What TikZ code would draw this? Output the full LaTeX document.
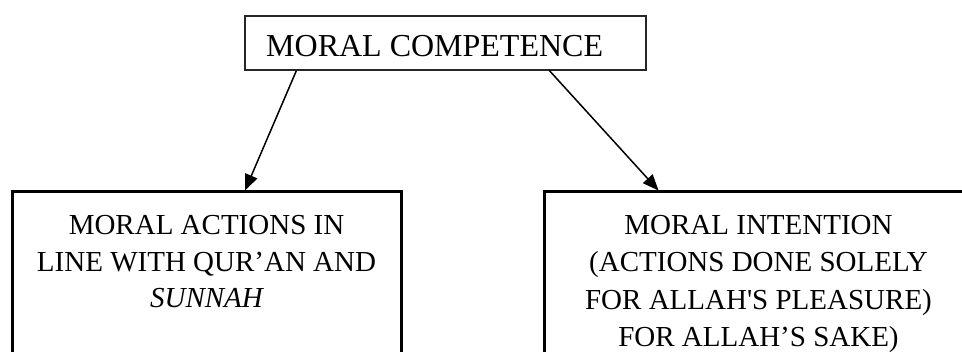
\documentclass[tikz,border=0pt]{standalone}
\usepackage{fontspec}
\setmainfont{Liberation Serif}
\usetikzlibrary{arrows.meta}
\begin{document}
\begin{tikzpicture}[x=1pt,y=1pt,
  topbox/.style={draw=black!85, line width=1.2pt, minimum width=401pt, minimum height=54pt, inner sep=0pt},
  lowbox/.style={draw=black, line width=3pt, inner sep=0pt},
  boxtext/.style={font=\fontsize{29}{35}\selectfont, anchor=base, inner sep=0pt},
  conn/.style={line width=1.5pt, -{Triangle[length=16pt,width=13pt]}}]
\useasboundingbox (0,0) rectangle (962,352);
\clip (0,0) rectangle (962,352);
\fill[white] (0,0) rectangle (962,352);
% top box
\node[topbox] (top) at (445.5,309) {};
\node[font=\fontsize{32}{38}\selectfont, anchor=base west, inner sep=0pt] (toptext) at (266,295) {MORAL COMPETENCE};
% lower boxes (open at the bottom edge of the picture)
\node[lowbox, minimum width=389pt, minimum height=200pt] (lbox) at (206.5,60) {};
\node[lowbox, minimum width=429pt, minimum height=200pt] (rbox) at (758.5,60) {};
% left box text
\node[boxtext] (l1) at (206.5,117) {MORAL ACTIONS IN};
\node[boxtext] (l2) at (206.5,80) {LINE WITH QUR’AN AND};
\node[boxtext] (l3) at (206.5,44) {\itshape SUNNAH};
% right box text
\node[boxtext] (r1) at (758.5,117) {MORAL INTENTION};
\node[boxtext] (r2) at (758.5,80) {(ACTIONS DONE SOLELY};
\node[boxtext] (r3) at (758.5,42) {FOR ALLAH\textquotesingle S PLEASURE)};
\node[boxtext] (r4) at (758.5,5) {FOR ALLAH’S SAKE)};
% connectors
\draw[conn] ([xshift=52pt]top.south west) -- ([xshift=234.5pt]lbox.north west);
\draw[conn] ([xshift=305pt]top.south west) -- ([xshift=116pt]rbox.north west);
\end{tikzpicture}
\end{document}
